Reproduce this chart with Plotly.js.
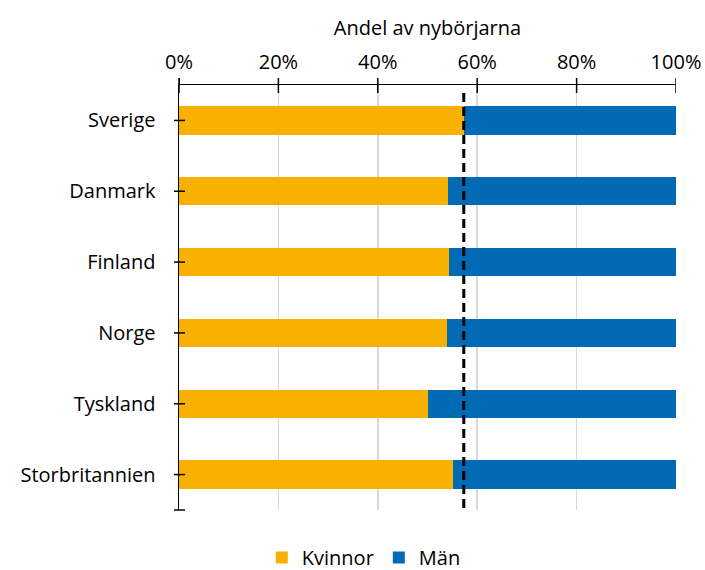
<!DOCTYPE html>
<html>
<head>
<meta charset="utf-8">
<script src="https://cdn.plot.ly/plotly-3.0.1.min.js"></script>
<style>html,body{margin:0;padding:0;background:#fff;}#chart{width:705px;height:570px;}</style>
</head>
<body>
<div id="chart"></div>
<script>
const countries = ["Sverige", "Danmark", "Finland", "Norge", "Tyskland", "Storbritannien"];
const kvinnor = [0.573, 0.542, 0.544, 0.539, 0.500, 0.551];
const man = kvinnor.map(v => 1 - v);
const seriesNames = ["Kvinnor", "Män"];
const referenceLine = 0.573;
const xTickVals = [0, 0.2, 0.4, 0.6, 0.8, 1.0];
const xTickText = ["0%", "20%", "40%", "60%", "80%", "100%"];

const FONT = "Open Sans, sans-serif";
const FS = 20;

const traces = [
  {type: "bar", orientation: "h", name: seriesNames[0], y: countries, x: kvinnor,
   marker: {color: "#F8B100"}, hoverinfo: "x+y"},
  {type: "bar", orientation: "h", name: seriesNames[1], y: countries, x: man,
   marker: {color: "#006AB4"}, hoverinfo: "x+y"}
];

const shapes = [];
// dashed reference line
shapes.push({type: "line", xref: "x", yref: "paper", x0: referenceLine, x1: referenceLine, y0: 0.005, y1: 0.99,
  line: {color: "#000", width: 3, dash: "9px,5px"}});
// cross ticks on top x axis
xTickVals.forEach(v => shapes.push({type: "line", xref: "x", yref: "paper", ysizemode: "pixel", yanchor: 1,
  x0: v, x1: v, y0: -8, y1: 7, line: {color: "#000", width: 1.5}}));
// cross ticks on y axis
countries.forEach(c => shapes.push({type: "line", yref: "y", xref: "paper", xsizemode: "pixel", xanchor: 0,
  y0: c, y1: c, x0: -5, x1: 6, line: {color: "#000", width: 1.5}}));
// bottom end tick
shapes.push({type: "line", yref: "paper", xref: "paper", xsizemode: "pixel", xanchor: 0,
  y0: 0, y1: 0, x0: -5, x1: 6, line: {color: "#000", width: 1.5}});
// y axis line extension above top
shapes.push({type: "line", xref: "paper", yref: "paper", ysizemode: "pixel", yanchor: 1,
  x0: 0, x1: 0, y0: 0, y1: 7, line: {color: "#000", width: 1.5}});

const layout = {
  width: 705, height: 570,
  margin: {l: 179, r: 29, t: 85, b: 60, pad: 0},
  barmode: "stack",
  bargap: 0.6,
  paper_bgcolor: "#fff", plot_bgcolor: "#fff",
  font: {family: FONT, size: FS, color: "#000"},
  showlegend: true,
  legend: {orientation: "h", xref: "container", yref: "container", x: 0.516, xanchor: "center",
    y: 0.0, yanchor: "bottom", font: {family: FONT, size: FS, color: "#000"}, traceorder: "normal",
    itemwidth: 30, tracegroupgap: 0, borderwidth: 0},
  xaxis: {
    side: "top", range: [0, 1], tickvals: xTickVals, ticktext: xTickText,
    showline: true, linecolor: "#000", linewidth: 1.5, ticks: "",
    showgrid: true, gridcolor: "#d9d9d9", gridwidth: 1.5, zeroline: false,
    ticklabelstandoff: 7, fixedrange: true,
    title: {text: "Andel av nybörjarna", font: {family: FONT, size: FS}, standoff: 6}
  },
  yaxis: {
    type: "category", autorange: "reversed", showline: true, linecolor: "#000", linewidth: 1.5,
    ticks: "", showgrid: false, zeroline: false, ticklabelstandoff: 18, fixedrange: true
  },
  shapes: shapes
};

Plotly.newPlot("chart", traces, layout, {displayModeBar: false, staticPlot: true}).then(gd => {
  // nudge legend down toward the bottom edge while keeping text inside the page
  const leg = gd.querySelector(".legend");
  if (leg) {
    const t = leg.getAttribute("transform") || "";
    const m = t.match(/translate\(([-\d.]+)[ ,]+([-\d.]+)\)/);
    if (m) leg.setAttribute("transform", `translate(${m[1]},${parseFloat(m[2]) + 7})`);
  }
});
</script>
</body>
</html>
